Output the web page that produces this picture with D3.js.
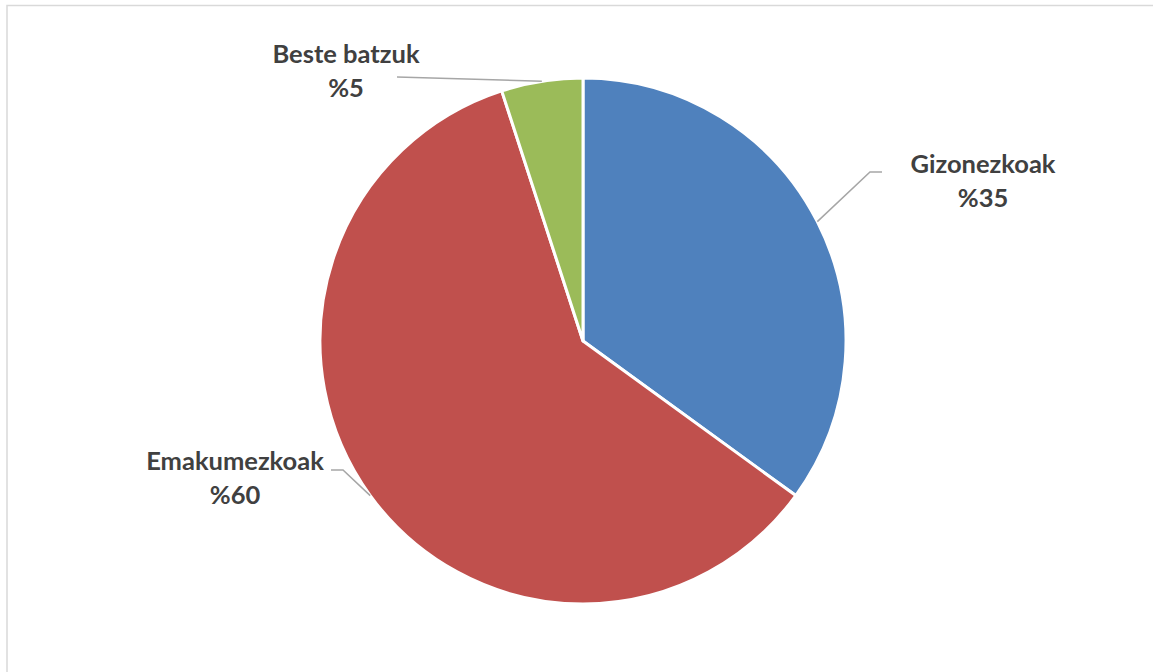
<!DOCTYPE html>
<html>
<head>
<meta charset="utf-8">
<title>pie</title>
<style>
  body { margin: 0; background: #fff; }
  svg { display: block; }
</style>
</head>
<body>
<div id="chart"></div>
<script src="https://cdn.jsdelivr.net/npm/d3@7"></script>
<script>
// data
var categories = ['Gizonezkoak', 'Emakumezkoak', 'Beste batzuk'];
var values = [35, 60, 5];
var labels = ['%35', '%60', '%5'];
var colors = ['#4F81BD', '#C0504D', '#9BBB59'];

var width = 1153, height = 672;
var cx = 583, cy = 341, radius = 263;

// where each label sits, relative to the pie centre (layout only)
var labelPos = {
    'Gizonezkoak':  { x: 400, y: -168, elbow: [287, -169], end: [299, -169] },
    'Emakumezkoak': { x: -348, y: 129, elbow: [-240, 129], end: [-252, 129] },
    'Beste batzuk': { x: -237, y: -278, elbow: null, end: [-186, -264] }
};

var svg = d3.select('#chart')
    .append('svg')
    .attr('width', width)
    .attr('height', height);

// chart frame
svg.append('rect')
    .attr('x', 7)
    .attr('y', 5.5)
    .attr('width', width + 20)
    .attr('height', height + 20)
    .attr('fill', 'none')
    .attr('stroke', '#d9d9d9')
    .attr('stroke-width', 1.5);

var pie = d3.pie().sort(null).value(d => d.value);
var data = categories.map((c, i) => ({ name: c, value: values[i], label: labels[i], color: colors[i] }));
var arcs = pie(data);

var arc = d3.arc().innerRadius(0).outerRadius(radius);
var edge = d3.arc().innerRadius(radius).outerRadius(radius);

var g = svg.append('g').attr('transform', 'translate(' + cx + ',' + cy + ')');

g.selectAll('path.slice')
    .data(arcs)
    .enter().append('path')
    .attr('class', 'slice')
    .attr('d', arc)
    .attr('fill', d => d.data.color)
    .attr('stroke', '#fff')
    .attr('stroke-width', 3)
    .attr('stroke-linejoin', 'round');

// leader lines
g.selectAll('polyline.leader')
    .data(arcs)
    .enter().append('polyline')
    .attr('class', 'leader')
    .attr('points', d => {
        var p = labelPos[d.data.name];
        var pts = [edge.centroid(d)];
        if (p.elbow) pts.push(p.elbow);
        pts.push(p.end);
        return pts.map(q => q.join(',')).join(' ');
    })
    .attr('fill', 'none')
    .attr('stroke', '#a6a6a6')
    .attr('stroke-width', 1.5);

// labels
var txt = g.selectAll('text.lbl')
    .data(arcs)
    .enter().append('text')
    .attr('class', 'lbl')
    .attr('text-anchor', 'middle')
    .style('font-family', 'Lato, "Open Sans", sans-serif')
    .style('font-weight', 'bold')
    .style('font-size', '25.5px')
    .style('fill', '#404040');

txt.append('tspan')
    .attr('x', d => labelPos[d.data.name].x)
    .attr('y', d => labelPos[d.data.name].y)
    .text(d => d.data.name);

txt.append('tspan')
    .attr('x', d => labelPos[d.data.name].x)
    .attr('y', d => labelPos[d.data.name].y + 34)
    .text(d => d.data.label);
</script>
</body>
</html>
